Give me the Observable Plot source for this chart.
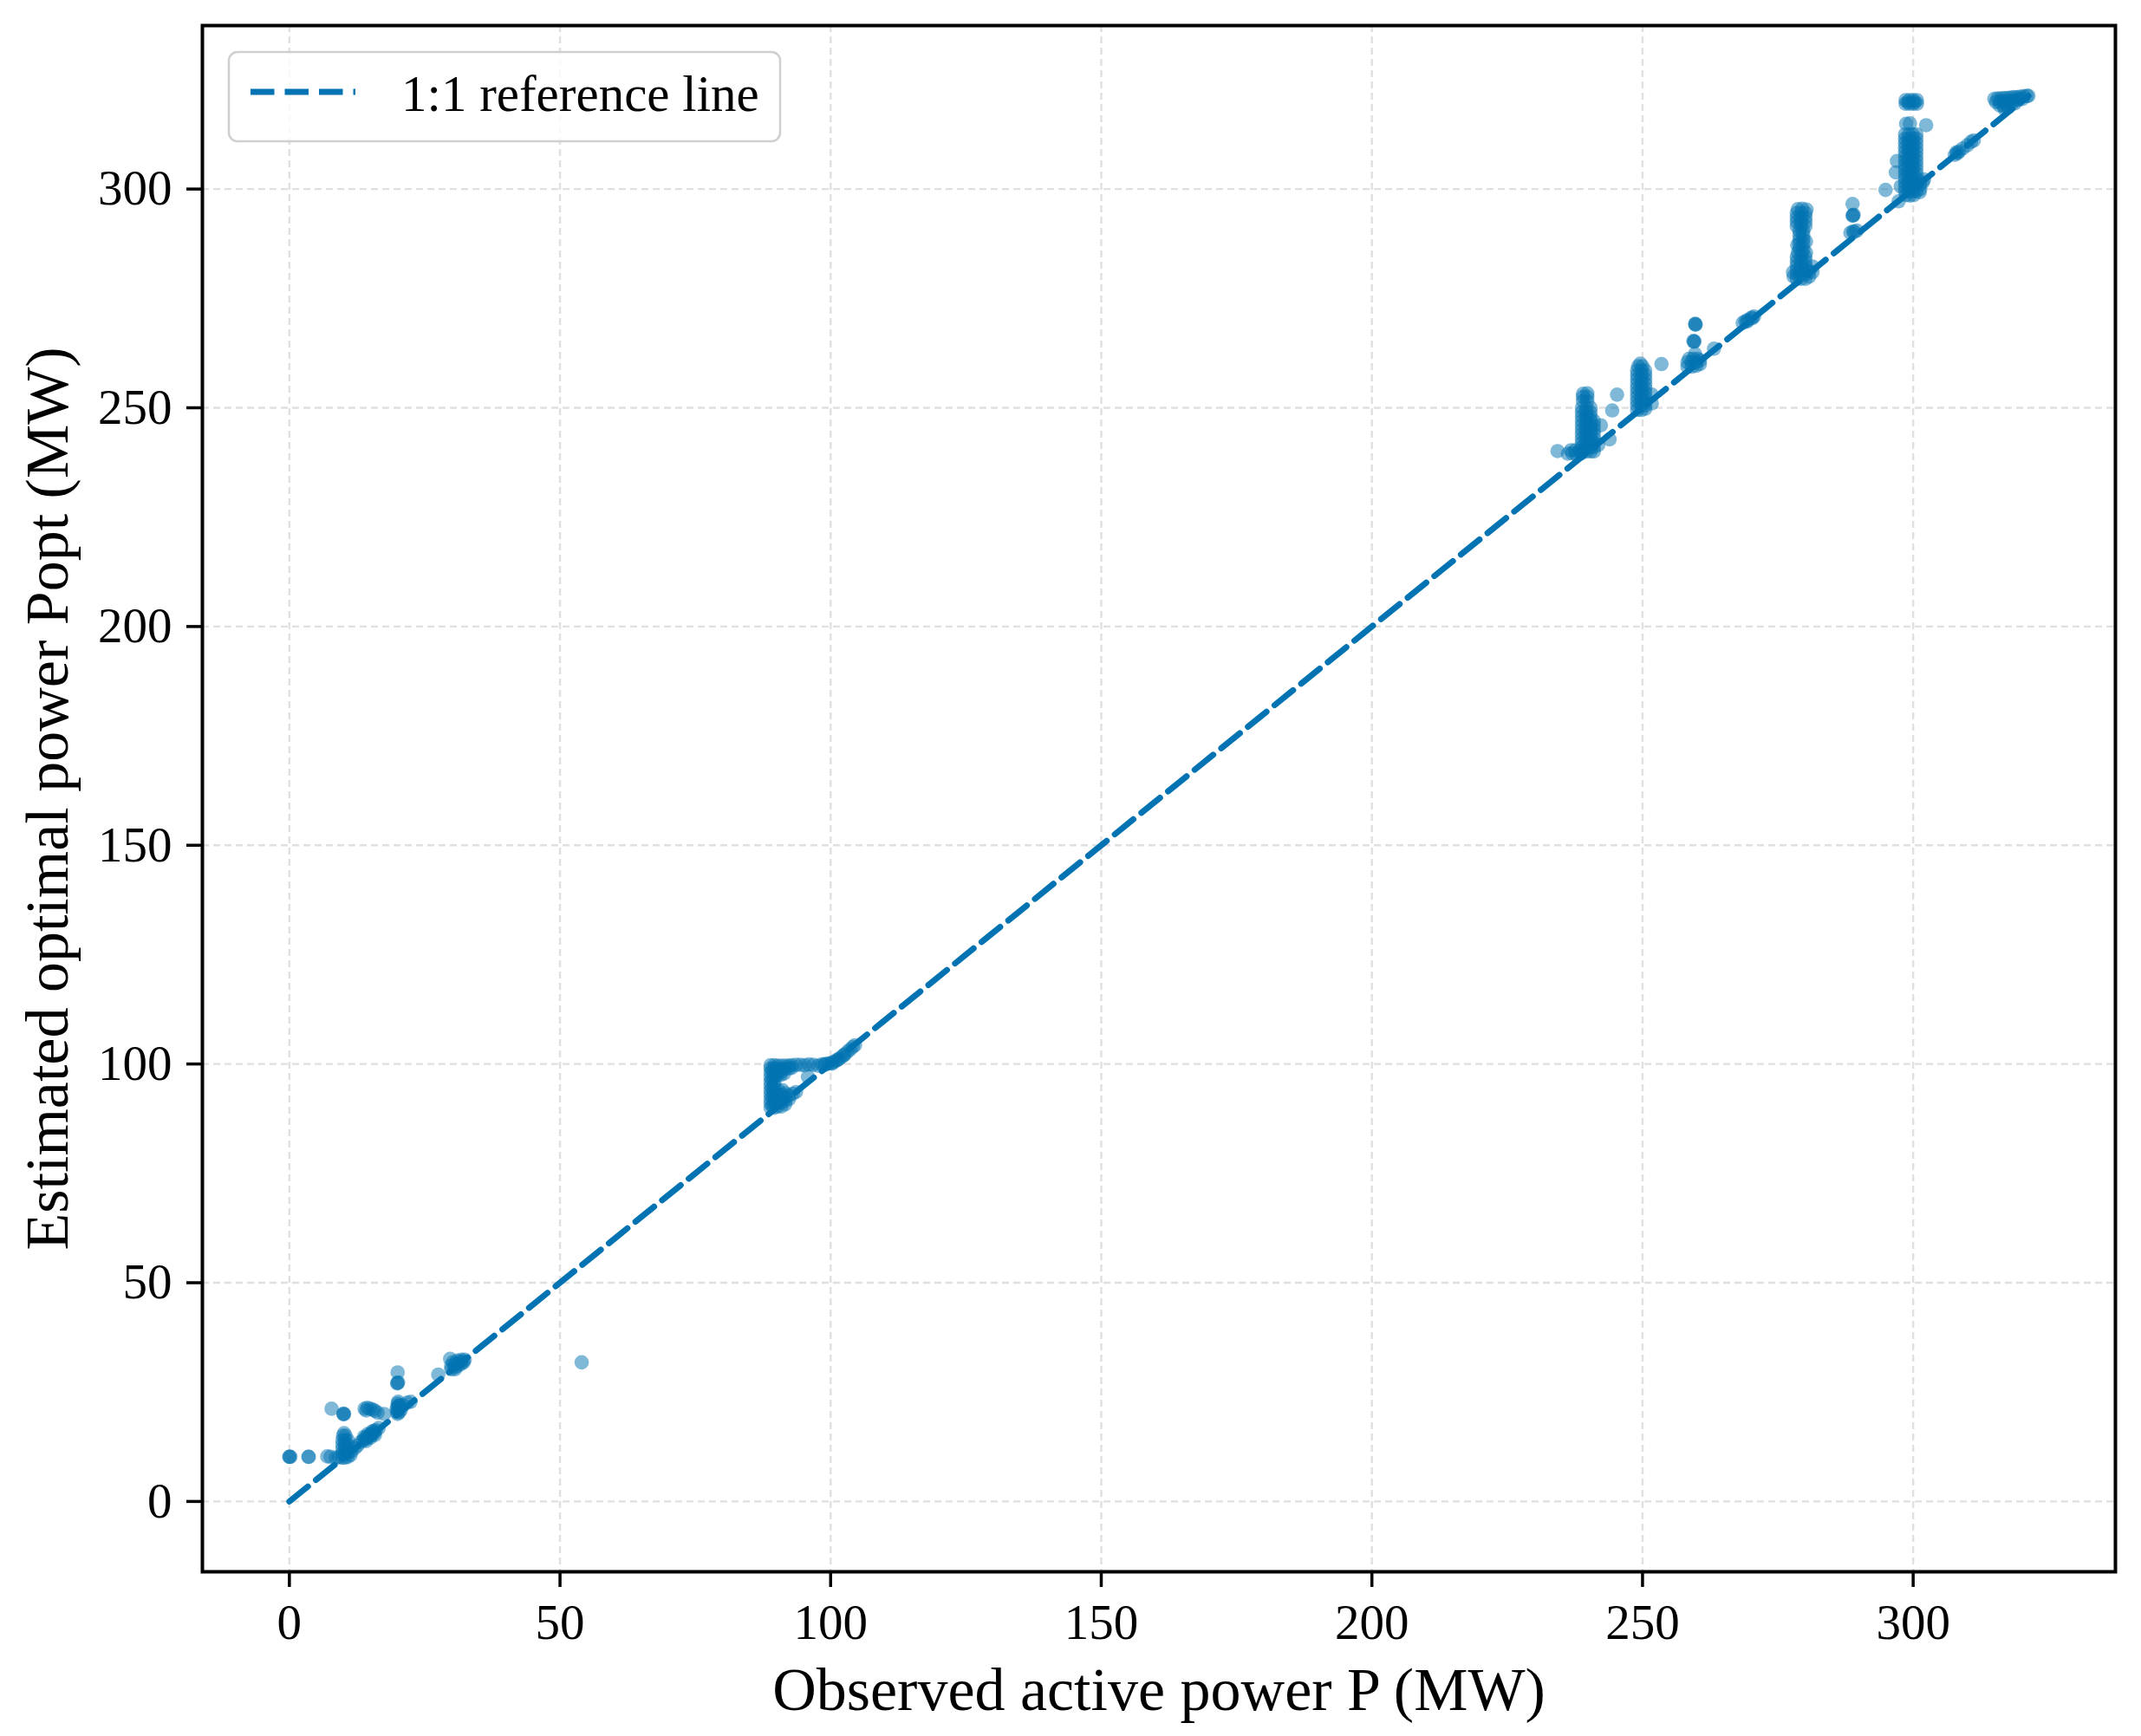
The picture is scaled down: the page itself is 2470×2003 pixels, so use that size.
<!DOCTYPE html>
<html><head><meta charset="utf-8">
<script src="https://cdn.jsdelivr.net/npm/d3@7"></script>
<script src="https://cdn.jsdelivr.net/npm/@observablehq/plot@0.6"></script>
<style>
html,body{margin:0;padding:0;background:#fff;}
#wrap{position:relative;width:2470px;height:2003px;overflow:hidden;}
#legend{position:absolute;left:0;top:0;pointer-events:none;}
</style></head><body>
<div id="wrap"><div id="chart"></div>
<svg id="legend" width="1000" height="200" xmlns="http://www.w3.org/2000/svg"></svg>
</div>
<script>
// ---- data (observed P, estimated Popt) in MW ----
const lowPts = [
  [0,10.2],[0,10.2],[0.2,10.2],
  [3.5,10.2],[3.6,10.2],
  [7,10.3],[7.6,10.2],
  [8.6,10],[9.2,10.1],
  [9.8,10],[10.3,10],[10.8,10.2],[9.8,11],[10.3,11],[10.8,11],[9.8,12],[10.3,12],[10.8,12],[9.8,13],[10.3,13],[10.8,13],[9.8,14],[10.3,14],[10.8,14],[9.9,15],[10.4,15],[10.1,15.6],
  [11.5,11.5],[12.1,12.2],[12.6,12.8],[11.3,10.6],
  [7.8,21.2],
  [10,19.9],[10.1,20],[10,20.1],
  [13.9,21.2],[14.4,21.4],[14.9,21.2],[15.4,21],[15.8,20.7],[14.2,20.8],[16.3,20.3],[17.5,20],
  [13.2,13.6],[13.7,14],[14.2,14.3],[14.7,14.8],[15.2,15.2],[15.7,15.7],[16,16.3],[13.8,14.8],[14.5,15.4],[15.3,16],[14.2,13.8],[15,14.6],[15.8,15.2],[14.1,14.6],[14.9,15.3],[15.6,16.1],[16.5,16.8],
  [20,29.5],[20,27.1],[20.1,27.2],[19.9,27],
  [20,20],[20,20.8],[20,21.6],[20,22.4],[20.3,20.4],[19.8,21.2],[20.2,22],[21,22],[21.8,22.6],[20.6,21],[19.9,20.4],[20.3,21.8],[20.1,22.8],[22.4,22.8],
  [27.5,29],
  [29.9,30.2],[30.5,30.6],[31.1,31],[31.7,31.4],[32.2,31.8],[29.9,31],[30.6,31.4],[31.3,31.8],[32,32],[30.2,31.8],[31,32.2],[31.8,32.4],[32.4,32.4],[29.7,32.6],[30.6,30.2],
  [54,31.8]
];
const midPts = [
  [88.9,90],[89.6,90],[88.9,91],[89.6,91],[88.9,92],[89.6,92],[88.9,93],[89.6,93],[88.9,94],[89.6,94],[88.9,95],[89.6,95],[88.9,96],[89.6,96],[88.9,97],[89.6,97],[88.9,98],[89.6,98],[88.9,99],[89.6,99],[88.9,99.7],[89.6,99.7],
  [89.2,90.5],[89.2,92.5],[89.2,94.5],[89.2,96.5],[89.2,98.5],
  [90.2,99.6],[90.9,99.6],[91.6,99.6],[92.3,99.6],[92.8,99.7],[90.2,98.8],[90.9,98.8],[91.6,98.9],[92.3,99],[92.8,99.1],
  [90.2,97.5],[90.8,97.5],[90.3,98.2],[90.9,98.2],[91.4,97.8],
  [90.2,90.3],[90.9,90.3],[91.6,90.8],[90.2,91.2],[90.9,91.2],[91.6,91.6],[92.3,92],[90.2,92.1],[90.9,92.1],[91.6,92.4],[92.3,92.8],[93,93.2],[90.2,93],[90.9,93],[91.6,93.3],[90.4,93.9],[91.1,94],[93.6,93.6],
  [93.6,99.8],[94.4,99.8],[95.2,99.7],[96,99.9],[96.8,99.8],
  [95.8,97.1],
  [97.7,99.6],[98.4,99.9],[99,100],[99.6,100.1],[100.1,100.2],[100.6,100.5],[101.1,100.8],[101.6,101.2],[102.1,101.7],[102.6,102.2],[103.1,102.8],[103.6,103.3],[104.1,103.9],[104.5,104.3],[98.9,99.8],[100.3,100.1],[101.3,101],[102.4,102]
];
const highPts = [
  [234.3,240.1],
  [236.2,239.5],[237,239.6],[237.8,239.4],[238.6,239.5],[236.8,240.3],[237.6,240.3],[238.4,240.2],
  [238.8,240],[239.6,240],[240.4,240],[241,240],
  [238.8,241],[239.6,241],[240.4,241],[241,241],
  [238.8,242],[239.6,242],[240.4,242],[241,242],
  [238.8,243],[239.6,243],[240.4,243],[241,243],
  [238.8,244],[239.6,244],[240.4,244],[241,244],
  [238.8,245],[239.6,245],[240.4,245],[241,245],
  [238.8,246],[239.6,246],[240.4,246],[241,246],
  [238.8,247],[239.6,247],[240.4,247],[241,247],
  [238.8,248],[239.6,248],[240.4,248],
  [238.8,249],[239.6,249],[240.4,249],
  [238.8,250],[239.6,250],[240.4,250],
  [239,251.5],[239.8,251.5],[239,252.5],[239.8,252.5],[239,253.2],[239.8,253.3],
  [243.9,242.8],[242.3,246],[244.4,249.4],[245.3,253],[241.8,241.5],
  [249,249.5],[249.8,249.5],[250.5,249.8],
  [249,250.5],[249.8,250.5],[250.5,250.5],
  [249,251.5],[249.8,251.5],[250.5,251.5],
  [249,252.5],[249.8,252.5],[250.5,252.5],
  [249,253.5],[249.8,253.5],[250.5,253.5],
  [249,254.5],[249.8,254.5],[250.5,254.5],
  [249,255.5],[249.8,255.5],[250.5,255.5],
  [249,256.5],[249.8,256.5],[250.5,256.5],
  [249,257.5],[249.8,257.5],[250.5,257.5],
  [249,258.5],[249.8,258.5],[250.5,258.5],
  [249.2,259.5],[250,259.5],[249.6,260.1],
  [251.7,253],[251.7,251],
  [253.5,260],
  [258.3,259.4],[259.1,259.4],[259.9,259.6],[260.6,260],[258.3,260.4],[259.1,260.4],[259.9,260.4],[260.6,260.8],[258.6,261.2],[259.4,261.2],[260.2,261.2],
  [259.7,262.3],[259.4,265.3],[259.5,265.1],[259.6,265.2],[259.8,269],[259.7,269.2],[259.8,269.1],
  [263.2,263.5],
  [268.5,269.4],[269,269.8],[269.5,270.1],[270.1,270.6],[270.6,270.9],[269.3,269.7],[270.3,270.5]
];
const upperPts = [
  [278.5,279.5],[279.3,279.5],[280.1,279.5],[280.8,280],[281.4,281],
  [278.5,280.5],[279.3,280.5],[280.1,280.5],[280.8,281.2],
  [278.5,281.5],[279.3,281.5],[280.1,281.5],[281.4,282.3],
  [278.5,282.5],[279.3,282.5],[280.1,282.5],
  [278.5,283.5],[279.3,283.5],[280.1,283.5],
  [278.5,284.5],[279.3,284.5],[280.1,284.5],
  [278.7,285.5],[279.5,285.5],[280.2,285.5],
  [277.8,281],[277.9,280],
  [278.6,287.2],
  [279,286.3],[279.7,286.3],[279,287.5],[279.7,287.5],[280.2,288],[279,288.5],[279.7,288.5],[279,289.5],[279.7,289.5],[279,290.5],[279.7,290.5],
  [278.5,291.5],[279.3,291.5],[280.1,291.5],[278.5,292.5],[279.3,292.5],[280.1,292.5],[278.5,293.5],[279.3,293.5],[280.1,293.5],[278.5,294.5],[279.3,294.5],[280.1,294.5],[278.7,295.4],[279.5,295.5],[280.3,295.3],
  [288.8,296.6],[288.8,293.9],[289,294.1],[288.9,294],[288.4,290],[289.1,290.2],[289.6,290.5],[288.9,290.3]
];
const topPts = [
  [298.6,319.5],[299.3,319.5],[300,319.5],[300.7,319.5],[298.6,320.3],[299.3,320.3],[300,320.3],[300.7,320.3],[299,319.9],[300.3,319.9],
  [299.4,315],[302.4,314.6],[298.7,314.9],
  [298.5,312.5],[299.2,312.5],[299.9,312.5],[300.6,312.5],
  [298.5,311.5],[299.2,311.5],[299.9,311.5],[300.6,311.5],
  [298.5,310.5],[299.2,310.5],[299.9,310.5],[300.6,310.5],
  [298.5,309.5],[299.2,309.5],[299.9,309.5],[300.6,309.5],
  [298.5,308.5],[299.2,308.5],[299.9,308.5],[300.6,308.5],
  [298.5,307.5],[299.2,307.5],[299.9,307.5],[300.6,307.5],
  [298.5,306.5],[299.2,306.5],[299.9,306.5],[300.6,306.5],
  [298.5,305.5],[299.2,305.5],[299.9,305.5],[300.6,305.5],
  [298.5,304.5],[299.2,304.5],[299.9,304.5],[300.6,304.5],
  [298.5,303.5],[299.2,303.5],[299.9,303.5],[300.6,303.5],
  [298.5,302.5],[299.2,302.5],[299.9,302.5],[300.6,302.5],
  [298.5,301.5],[299.2,301.5],[299.9,301.5],[300.6,301.5],
  [298.5,300.5],[299.2,300.5],[299.9,300.5],[300.6,300.5],
  [298.5,299.5],[299.2,299.5],[299.9,299.5],[300.6,299.5],
  [298.7,298.6],[299.4,298.5],[300.1,298.6],
  [301.3,301],[301.8,301.6],[301.3,300],[302,302.2],[301.2,299.3],
  [297,306.4],[296.8,303.8],[294.9,299.8],[297.3,297.2],[297.7,300.6],
  [307.7,307.8],[308,308.4],[308.5,308.6],[309.2,309.3],[310,310],[310.7,310.8],[311.2,311.1],[308.2,308.2]
];
const peakPts = [
  [315,320.6],[315.6,320.7],[316.2,320.7],[316.8,320.8],[317.4,320.8],[318,320.9],[318.6,321],[319.2,321],[319.8,321.1],[320.4,321.2],[321,321.3],[321.3,321.3],
  [315.3,319.9],[316,319.9],[316.7,320],[317.4,320],[318.1,320.1],[318.8,320.2],[319.5,320.4],[320.2,320.6],
  [316,319.1],[316.7,319],[317.4,319.2],[318.1,319.3],[318.8,319.6],
  [316.9,318.3],[317.5,318.6]
];
const refLineP = [0, 321.3];          // 1:1 reference line endpoints
const xTicks = [0, 50, 100, 150, 200, 250, 300];
const yTicks = [0, 50, 100, 150, 200, 250, 300];
const xDomain = [-16.07, 337.37];
const yDomain = [-16.07, 337.37];
const xLabel = "Observed active power P (MW)";
const yLabel = "Estimated optimal power Popt (MW)";
const legendLabel = "1:1 reference line";
const blue = "#0173B2";

const points = [...lowPts, ...midPts, ...highPts, ...upperPts, ...topPts, ...peakPts]
  .map(([p, popt]) => ({p, popt}));
const refLine = refLineP.map(v => ({p: v, popt: v}));

const gridStyle = {stroke: "#e0e0e0", strokeOpacity: 1, strokeWidth: 2.4, strokeDasharray: "8,5"};

const chart = Plot.plot({
  width: 2470, height: 2003,
  marginLeft: 233, marginRight: 30, marginTop: 29, marginBottom: 190,
  style: {fontFamily: '"Liberation Serif", "Times New Roman", serif', fontSize: "57px", color: "#000", background: "#fff"},
  x: {domain: xDomain},
  y: {domain: yDomain},
  marks: [
    Plot.gridX(xTicks, gridStyle),
    Plot.gridY(yTicks, gridStyle),
    Plot.dot(points, {x: "p", y: "popt", r: 8.3, fill: blue, fillOpacity: 0.5}),
    Plot.line(refLine, {x: "p", y: "popt", stroke: blue, strokeWidth: 7, strokeDasharray: "27.5,12"}),
    Plot.frame({stroke: "#000", strokeWidth: 4}),
    Plot.axisX(xTicks, {anchor: "bottom", tickSize: 18, tickPadding: 19, fontSize: 57, label: null, strokeWidth: 3.5}),
    Plot.axisY(yTicks, {anchor: "left", tickSize: 18, tickPadding: 17, fontSize: 57, label: null, strokeWidth: 3.5}),
    Plot.text([xLabel], {text: d => d, frameAnchor: "bottom", dy: 137, fontSize: 70, textAnchor: "middle", lineAnchor: "middle", fill: "#000"}),
    Plot.text([yLabel], {text: d => d, frameAnchor: "left", dx: -178, rotate: -90, fontSize: 70, textAnchor: "middle", lineAnchor: "middle", fill: "#000"})
  ]
});
document.getElementById("chart").appendChild(chart);

// legend (matplotlib-style box, upper left)
const lg = d3.select("#legend");
lg.append("rect").attr("x", 264).attr("y", 60).attr("width", 636).attr("height", 103).attr("rx", 10)
  .attr("fill", "#fff").attr("fill-opacity", 0.8).attr("stroke", "#cfcfcf").attr("stroke-width", 2.5);
lg.append("line").attr("x1", 289).attr("x2", 410).attr("y1", 106).attr("y2", 106)
  .attr("stroke", blue).attr("stroke-width", 7).attr("stroke-dasharray", "27.5 12");
lg.append("text").attr("x", 463).attr("y", 128).attr("font-family", '"Liberation Serif", "Times New Roman", serif')
  .attr("font-size", 59).attr("fill", "#000").text(legendLabel);
</script>
</body></html>
